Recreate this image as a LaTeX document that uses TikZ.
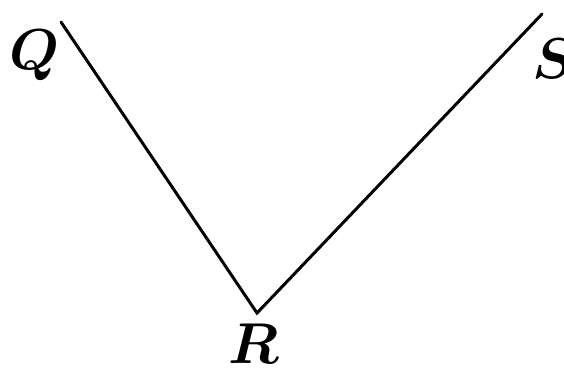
\documentclass[tikz,border=0pt]{standalone}
\usepackage{amsmath,amssymb}
\usepackage{tikz}
\usetikzlibrary{positioning}

\begin{document}
\begin{tikzpicture}[
  x=0.25pt, y=-0.25pt,
  side/.style={line width=0.75pt, line cap=round},
  lbl/.style={inner sep=0pt, font=\fontsize{13.5}{16}\selectfont}
]
\useasboundingbox (0,0) rectangle (564,369);
\coordinate (q) at (61,22);
\coordinate (r) at (257,313);
\coordinate (s) at (542,14);

\draw[side] (q) -- (r) -- (s);

\node[lbl] (qlabel) at (35,55) {$\boldsymbol{Q}$};
\node[lbl] (rlabel) at (254,344) {$\boldsymbol{R}$};
\node[lbl] (slabel) at (554,59) {$\boldsymbol{S}$};
\end{tikzpicture}
\end{document}
